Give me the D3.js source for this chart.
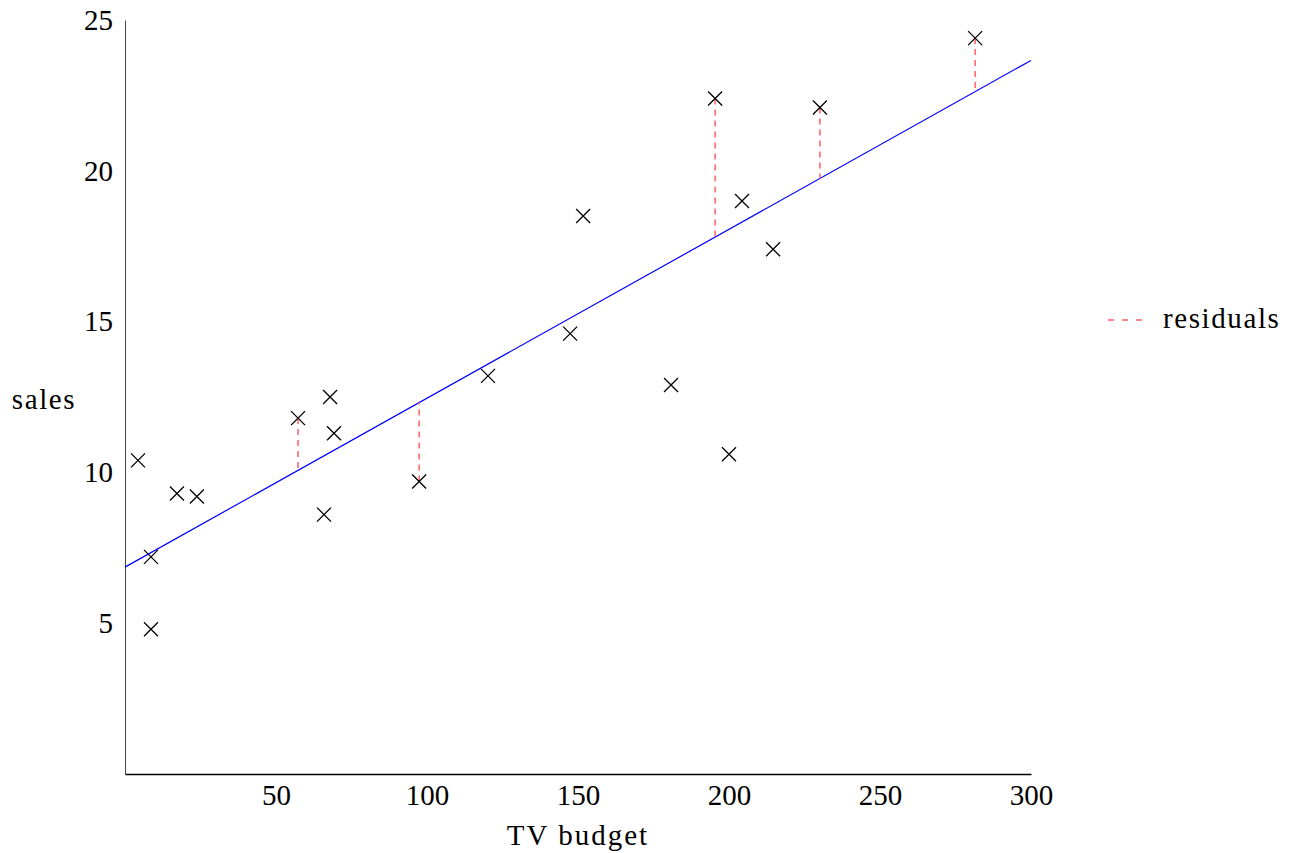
<!DOCTYPE html>
<html>
<head>
<meta charset="utf-8">
<script src="https://cdn.jsdelivr.net/npm/d3@7"></script>
<style>
  body { margin: 0; background: #fff; }
  text { font-family: "Liberation Serif", "DejaVu Serif", serif; fill: #000; }
</style>
</head>
<body>
<div id="chart"></div>
<script>
// TV budget vs sales
const tvBudget = [4.3, 8.6, 8.6, 17.2, 23.8, 57.3, 65.9, 67.9, 69.2, 97.4,
                  120.2, 147.4, 151.7, 180.8, 195.4, 200.0, 204.3, 214.6, 230.1, 281.5]
const sales = [10.4, 7.2, 4.8, 9.3, 9.2, 11.8, 8.6, 12.5, 11.3, 9.7,
               13.2, 14.6, 18.5, 12.9, 22.4, 10.6, 19.0, 17.4, 22.1, 24.4]
// which points get a residual drawn
const residualIdx = [5, 9, 14, 18, 19]
const fitIntercept = 6.86
const fitSlope = 0.056
const xTicks = [50, 100, 150, 200, 250, 300]
const yTicks = [5, 10, 15, 20, 25]

const width = 1293, height = 853
const fs = 29
const svg = d3.select("#chart").append("svg")
  .attr("width", width)
  .attr("height", height)

const x = d3.scaleLinear().domain([0, 300]).range([125, 1031])
const y = d3.scaleLinear().domain([0, 25]).range([774, 20])

// axes (just lines + labels, no tick marks)
const xAxis = d3.axisBottom(x).tickValues(xTicks).tickSize(0).tickPadding(10)
const yAxis = d3.axisLeft(y).tickValues(yTicks).tickSize(0).tickPadding(12)

const gx = svg.append("g").attr("transform", "translate(0,774)").call(xAxis)
gx.select(".domain").attr("stroke", "#000").attr("stroke-width", 1.3)
gx.selectAll("text").attr("font-size", fs).attr("font-family", "Liberation Serif")

const gy = svg.append("g").attr("transform", "translate(125,0)").call(yAxis)
gy.select(".domain").attr("stroke", "#444").attr("stroke-width", 1)
gy.selectAll("text").attr("font-size", fs).attr("font-family", "Liberation Serif")

svg.append("text")
  .attr("x", x(150)).attr("y", 845)
  .attr("text-anchor", "middle")
  .attr("font-size", fs)
  .attr("letter-spacing", 2)
  .text("TV budget")

svg.append("text")
  .attr("x", 44).attr("y", 409)
  .attr("text-anchor", "middle")
  .attr("font-size", fs)
  .attr("letter-spacing", 1.6)
  .text("sales")

// regression line
svg.append("line")
  .attr("x1", x(0)).attr("y1", y(fitIntercept))
  .attr("x2", x(300)).attr("y2", y(fitIntercept + fitSlope * 300))
  .attr("stroke", "#0000ff")
  .attr("stroke-width", 1.2)

// residuals
svg.selectAll(".resid")
  .data(residualIdx)
  .enter()
  .append("line")
  .attr("class", "resid")
  .attr("x1", d => x(tvBudget[d]))
  .attr("x2", d => x(tvBudget[d]))
  .attr("y1", d => y(sales[d]))
  .attr("y2", d => y(fitIntercept + fitSlope * tvBudget[d]))
  .attr("stroke", "#ff6060")
  .attr("stroke-width", 1.5)
  .attr("stroke-dasharray", "6,5")

// x markers
const s = 7
svg.selectAll(".pt")
  .data(tvBudget.map((b, i) => [b, sales[i]]))
  .enter()
  .append("path")
  .attr("class", "pt")
  .attr("d", d => {
    const cx = x(d[0]), cy = y(d[1])
    return `M${cx - s},${cy - s}L${cx + s},${cy + s}M${cx - s},${cy + s}L${cx + s},${cy - s}`
  })
  .attr("stroke", "#000")
  .attr("stroke-width", 1.3)
  .attr("fill", "none")

// legend
svg.append("line")
  .attr("x1", 1108).attr("x2", 1150)
  .attr("y1", 320).attr("y2", 320)
  .attr("stroke", "#ff6060")
  .attr("stroke-width", 1.5)
  .attr("stroke-dasharray", "6,8")

svg.append("text")
  .attr("x", 1163).attr("y", 328)
  .attr("font-size", fs)
  .attr("letter-spacing", 1.6)
  .text("residuals")
</script>
</body>
</html>
